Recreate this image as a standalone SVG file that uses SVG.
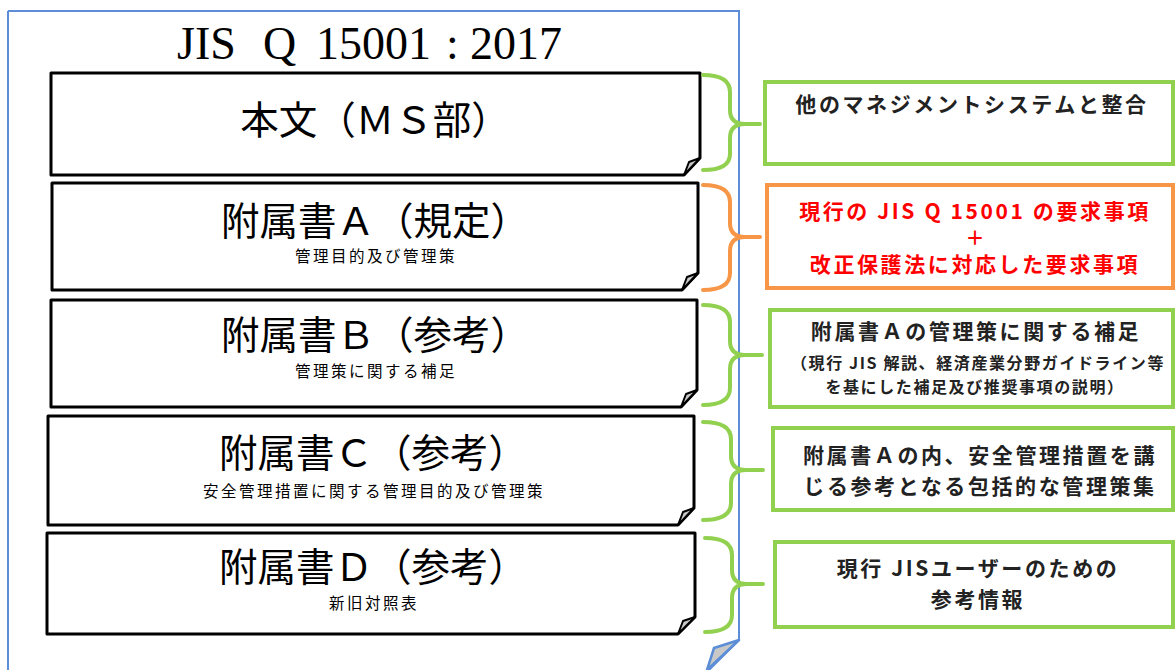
<svg xmlns="http://www.w3.org/2000/svg" width="1176" height="670" viewBox="0 0 1176 670">
<style>
.page{fill:#fff;stroke:#5B8ED6;stroke-width:2}
.box{fill:#fff;stroke:#000;stroke-width:3;stroke-linejoin:round}
.fold{fill:#c8c8c8;stroke:#000;stroke-width:2;stroke-linejoin:round}
.pfold{fill:#c8c8c8;stroke:#5B8ED6;stroke-width:2.5;stroke-linejoin:round}
.big{font-family:"Noto Sans CJK JP","Noto Sans",sans-serif;font-size:38.5px;fill:#000;text-anchor:middle}
.sub{font-family:"Noto Sans CJK JP","Noto Sans",sans-serif;font-size:15.5px;letter-spacing:2.5px;fill:#000;text-anchor:middle}
.gbox{fill:#fff;stroke:#92D050;stroke-width:4}
.obox{fill:#fff;stroke:#F79646;stroke-width:4}
.gbr{fill:none;stroke:#92D050;stroke-width:4;stroke-linecap:round;stroke-linejoin:round}
.obr{fill:none;stroke:#F79646;stroke-width:4;stroke-linecap:round;stroke-linejoin:round}
.rt{font-family:"Noto Sans CJK JP","Noto Sans",sans-serif;font-weight:bold;font-size:21px;letter-spacing:2.6px;fill:#222;text-anchor:middle}
.rs{font-family:"Noto Sans CJK JP","Noto Sans",sans-serif;font-weight:bold;font-size:16px;letter-spacing:1.6px;fill:#222;text-anchor:middle}
.plus{font-family:"Noto Sans CJK JP","Noto Sans",sans-serif;font-weight:bold;font-size:19px;fill:#FF0000;text-anchor:middle}
.red{fill:#FF0000}
.title{font-family:"Liberation Serif","DejaVu Serif",serif;font-size:46px;fill:#000}
</style>
<g id="page">
<path class="page" d="M8,11 L739,11 L739,640 L707,672 M8,11 L8,672"/>
<path class="pfold" d="M739,640 L714,648 L707,670 Z"/>
<text class="title" y="59"><tspan x="177">JIS</tspan><tspan x="263">Q</tspan><tspan x="316">15001</tspan><tspan x="446">:</tspan><tspan x="470">2017</tspan></text>
</g>
<g id="node-honbun">
<path class="box" d="M51,73 L700,73 L700,158 L684,175 L51,175 Z"/>
<path class="fold" d="M700,158 L684,175 L689,162 Z"/>
<text class="big" x="375" y="134">本文（ＭＳ部）</text>
</g>
<g id="node-a">
<path class="box" d="M52,183 L698,183 L698,273 L682,290 L52,290 Z"/>
<path class="fold" d="M698,273 L682,290 L687,277 Z"/>
<text class="big" x="375" y="235">附属書Ａ（規定）</text>
<text class="sub" x="376" y="262">管理目的及び管理策</text>
</g>
<g id="node-b">
<path class="box" d="M51,300 L697,300 L697,390 L681,407 L51,407 Z"/>
<path class="fold" d="M697,390 L681,407 L686,394 Z"/>
<text class="big" x="375" y="349">附属書Ｂ（参考）</text>
<text class="sub" x="376" y="377">管理策に関する補足</text>
</g>
<g id="node-c">
<path class="box" d="M48,416 L694,416 L694,508 L678,525 L48,525 Z"/>
<path class="fold" d="M694,508 L678,525 L683,512 Z"/>
<text class="big" x="373" y="467">附属書Ｃ（参考）</text>
<text class="sub" x="374" y="497">安全管理措置に関する管理目的及び管理策</text>
</g>
<g id="node-d">
<path class="box" d="M47,533 L695,533 L695,617 L678,634 L47,634 Z"/>
<path class="fold" d="M695,617 L678,634 L683,621 Z"/>
<text class="big" x="373" y="581">附属書Ｄ（参考）</text>
<text class="sub" x="374" y="609">新旧対照表</text>
</g>
<g id="connectors">
<path class="gbr" d="M703,75 Q730,75 730,92 L730,110 Q730,124 745,124 L760,124 M745,124 Q730,124 730,138 L730,154 Q730,170 703,170"/>
<path class="obr" d="M703,185 Q730,185 730,202 L730,223 Q730,237 745,237 L760,237 M745,237 Q730,237 730,251 L730,273 Q730,290 703,290"/>
<path class="gbr" d="M703,305 Q730,305 730,322 L730,341 Q730,355 745,355 L762,355 M745,355 Q730,355 730,369 L730,388 Q730,405 703,405"/>
<path class="gbr" d="M703,422 Q731,422 731,439 L731,456 Q731,470 746,470 L763,470 M746,470 Q731,470 731,484 L731,503 Q731,520 703,520"/>
<path class="gbr" d="M705,538 Q732,538 732,555 L732,570 Q732,584 747,584 L763,584 M747,584 Q732,584 732,598 L732,615 Q732,632 705,632"/>
</g>
<g id="node-r1">
<rect class="gbox" x="765" y="82" width="408" height="82"/>
<text class="rt" x="972" y="112">他のマネジメントシステムと整合</text>
</g>
<g id="node-r2">
<rect class="obox" x="767" y="185" width="406" height="103"/>
<text class="rt red" x="975" y="219">現行の JIS Q 15001 の要求事項</text>
<text class="plus" x="975" y="245">＋</text>
<text class="rt red" x="975" y="272">改正保護法に対応した要求事項</text>
</g>
<g id="node-r3">
<rect class="gbox" x="770" y="310" width="403" height="97"/>
<text class="rt" x="976" y="339">附属書Ａの管理策に関する補足</text>
<text class="rs" x="978" y="369">（現行 JIS 解説、経済産業分野ガイドライン等</text>
<text class="rs" x="975" y="393">を基にした補足及び推奨事項の説明）</text>
</g>
<g id="node-r4">
<rect class="gbox" x="773" y="428" width="400" height="82"/>
<text class="rt" x="980" y="463">附属書Ａの内、安全管理措置を講</text>
<text class="rt" x="980" y="494">じる参考となる包括的な管理策集</text>
</g>
<g id="node-r5">
<rect class="gbox" x="775" y="542" width="398" height="85"/>
<text class="rt" x="978" y="576">現行 JISユーザーのための</text>
<text class="rt" x="978" y="607">参考情報</text>
</g>
</svg>
